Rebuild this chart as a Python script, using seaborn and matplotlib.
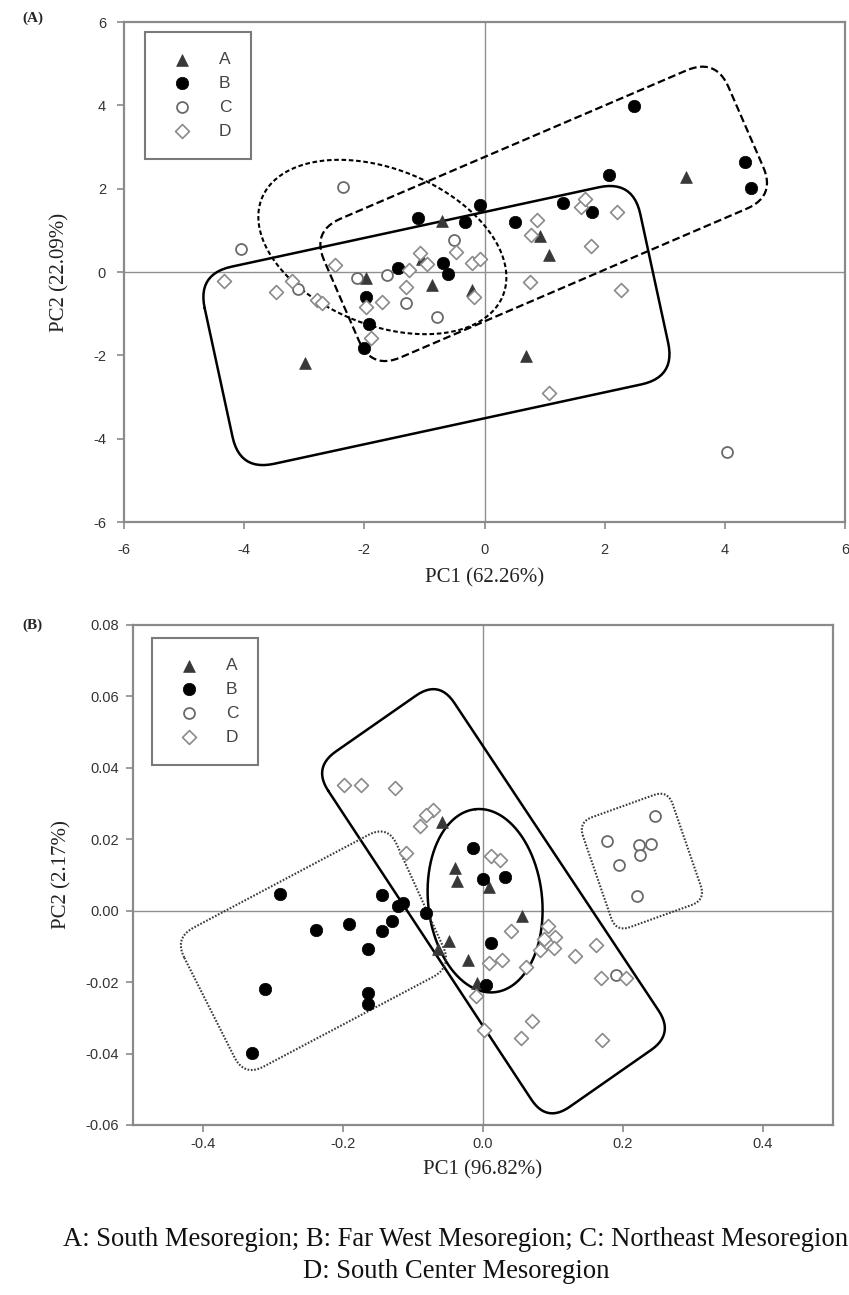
import numpy as np
import matplotlib
matplotlib.use("Agg")
import matplotlib.pyplot as plt
import seaborn as sns

# ---------------- data: panel (A) ----------------
pa_A_x = [-0.70, -1.04, -0.88, -1.97, -0.21, 0.93, 1.07, 3.36, -2.98, 0.69]
pa_A_y = [1.22, 0.31, -0.31, -0.14, -0.43, 0.86, 0.41, 2.29, -2.19, -2.01]
pa_B_x = [-1.11, -0.33, -0.07, 0.50, 1.31, 1.79, 2.07, 2.48, 4.33, 4.44,
          -1.44, -0.69, -0.61, -1.97, -1.93, -2.00]
pa_B_y = [1.30, 1.21, 1.62, 1.19, 1.65, 1.44, 2.33, 3.98, 2.65, 2.02,
          0.09, 0.22, -0.04, -0.59, -1.25, -1.83]
pa_C_x = [-2.36, -4.06, -3.10, -2.12, -1.62, -1.30, -0.79, -0.50, 4.04]
pa_C_y = [2.03, 0.55, -0.40, -0.14, -0.06, -0.74, -1.09, 0.76, -4.31]
pa_D_x = [-4.33, -3.47, -3.20, -2.79, -2.70, -2.48, -1.97, -1.71, -1.89, -1.26,
          -1.30, -1.07, -0.96, -0.47, -0.20, -0.08, -0.18, 0.87, 0.77, 1.60,
          1.67, 2.21, 1.77, 0.75, 2.28, 1.08]
pa_D_y = [-0.21, -0.48, -0.22, -0.67, -0.75, 0.18, -0.84, -0.72, -1.58, 0.05,
          -0.35, 0.45, 0.19, 0.48, 0.22, 0.31, -0.61, 1.26, 0.89, 1.57,
          1.75, 1.45, 0.63, -0.23, -0.43, -2.91]

# ---------------- data: panel (B) ----------------
pb_A_x = [-0.058, -0.040, -0.037, 0.009, 0.055, -0.049, -0.022, -0.009, -0.065]
pb_A_y = [0.0248, 0.0120, 0.0082, 0.0066, -0.0014, -0.0084, -0.0137, -0.0202, -0.0107]
pb_B_x = [-0.015, 0.000, 0.031, 0.012, 0.004, -0.290, -0.145, -0.115, -0.122, -0.082,
          -0.192, -0.238, -0.130, -0.144, -0.164, -0.312, -0.164, -0.164, -0.330]
pb_B_y = [0.0177, 0.0090, 0.0094, -0.0090, -0.0207, 0.0047, 0.0043, 0.0021, 0.0012, -0.0006,
          -0.0036, -0.0053, -0.0030, -0.0058, -0.0106, -0.0219, -0.0229, -0.0260, -0.0397]
pb_C_x = [0.177, 0.245, 0.194, 0.223, 0.240, 0.224, 0.220, 0.190]
pb_C_y = [0.0194, 0.0266, 0.0129, 0.0185, 0.0188, 0.0157, 0.0040, -0.0179]
pb_D_x = [-0.199, -0.175, -0.126, -0.072, -0.082, -0.090, -0.110, 0.011, 0.024, 0.040,
          0.009, 0.027, 0.061, 0.093, 0.103, 0.087, 0.101, 0.082, 0.132, 0.162,
          0.168, 0.204, 0.070, 0.054, 0.170, 0.001, -0.010]
pb_D_y = [0.0353, 0.0353, 0.0345, 0.0283, 0.0269, 0.0236, 0.0162, 0.0152, 0.0141, -0.0058,
          -0.0147, -0.0137, -0.0158, -0.0042, -0.0074, -0.0079, -0.0105, -0.0110, -0.0126, -0.0097,
          -0.0189, -0.0187, -0.0308, -0.0355, -0.0361, -0.0333, -0.0240]

group_labels = ["A", "B", "C", "D"]
xticks_a = [-6, -4, -2, 0, 2, 4, 6]
yticks_a = [-6, -4, -2, 0, 2, 4, 6]
xticks_b = [-0.4, -0.2, 0.0, 0.2, 0.4]
yticks_b = [-0.06, -0.04, -0.02, 0.00, 0.02, 0.04, 0.06, 0.08]
xlabel_a, ylabel_a = "PC1 (62.26%)", "PC2 (22.09%)"
xlabel_b, ylabel_b = "PC1 (96.82%)", "PC2 (2.17%)"
caption = ["A: South Mesoregion; B: Far West Mesoregion; C: Northeast Mesoregion",
           "D: South Center Mesoregion"]

# enclosing outlines (annotation geometry, data coords of corners)
rect_a_solid = [(-4.78, -0.05), (2.47, 2.21), (3.18, -2.52), (-4.07, -4.78)]
rect_a_dash = [(-2.88, 0.98), (3.85, 5.14), (4.85, 1.82), (-1.88, -2.35)]
ell_a = (-1.70, 0.60, 130, 78, -22)
rect_b_solid = [(-0.243, 0.0401), (-0.063, 0.0647), (0.273, -0.0345), (0.091, -0.0594)]
rect_b_dot1 = [(-0.441, -0.0076), (-0.136, 0.0241), (-0.044, -0.0157), (-0.341, -0.0465)]
rect_b_dot2 = [(0.136, 0.0248), (0.264, 0.0338), (0.318, 0.0030), (0.190, -0.0060)]
ell_b = (0.003, 0.0028, 92, 57, 96)

# ---------------- style ----------------
sns.set_theme(style="white")
plt.rcParams['font.family'] = ['Liberation Sans', 'DejaVu Sans']
SERIF = ['Liberation Serif', 'DejaVu Serif']

W, H = 849, 1295
fig = plt.figure(figsize=(W / 100, H / 100), dpi=100)
axA = fig.add_axes([124 / W, 1 - 522 / H, 721 / W, 500 / H])
axB = fig.add_axes([133 / W, 1 - 1125 / H, 700 / W, 500 / H])


def rounded(corners, r, sx, sy, n=14):
    P = np.array([[x * sx, y * sy] for x, y in corners])
    pts = []
    m = len(P)
    for i in range(m):
        prev, cur, nxt = P[i - 1], P[i], P[(i + 1) % m]
        d1 = (prev - cur) / np.linalg.norm(prev - cur)
        d2 = (nxt - cur) / np.linalg.norm(nxt - cur)
        a = cur + d1 * r
        b = cur + d2 * r
        t = np.linspace(0, 1, n)[:, None]
        pts.append((1 - t) ** 2 * a + 2 * (1 - t) * t * cur + t ** 2 * b)
    pts = np.vstack(pts + [pts[0][:1]])
    return pts[:, 0] / sx, pts[:, 1] / sy


def ellipse(spec, sx, sy):
    cx, cy, a, b, ang = spec
    t = np.linspace(0, 2 * np.pi, 300)
    ca, sa = np.cos(np.radians(ang)), np.sin(np.radians(ang))
    ex = a * np.cos(t) * ca - b * np.sin(t) * sa
    ey = a * np.cos(t) * sa + b * np.sin(t) * ca
    return cx + ex / sx, cy + ey / sy


def draw_points(ax, ax_, ay_, bx_, by_, cx_, cy_, dx_, dy_):
    sns.scatterplot(x=ax_, y=ay_, marker='^', s=72, color='#383838',
                    edgecolor='#383838', linewidth=0.5, ax=ax, label=group_labels[0], zorder=4)
    sns.scatterplot(x=bx_, y=by_, marker='o', s=80, color='black',
                    edgecolor='black', linewidth=0.5, ax=ax, label=group_labels[1], zorder=4)
    sns.scatterplot(x=cx_, y=cy_, marker='o', s=62, facecolor='white',
                    edgecolor='#6a6a6a', linewidth=1.3, ax=ax, label=group_labels[2], zorder=4)
    sns.scatterplot(x=dx_, y=dy_, marker='D', s=50, facecolor='white',
                    edgecolor='#8a8a8a', linewidth=1.2, ax=ax, label=group_labels[3], zorder=4)


def style_axes(ax, xlim, ylim, xt, yt, fmt, xl, yl, xpad, ypad, xlp, ylp):
    ax.set_xlim(*xlim)
    ax.set_ylim(*ylim)
    ax.set_xticks(xt)
    ax.set_yticks(yt)
    ax.set_xticklabels([fmt(v) for v in xt])
    ax.set_yticklabels([fmt(v) for v in yt])
    ax.axhline(0, color='#8f8f8f', lw=1.0, zorder=1)
    ax.axvline(0, color='#8f8f8f', lw=1.0, zorder=1)
    for s in ax.spines.values():
        s.set_color('#8a8a8a')
        s.set_linewidth(1.6)
    ax.tick_params(axis='both', direction='out', length=5, width=1.2, color='#8a8a8a',
                   labelsize=10.5, labelcolor='#333333', bottom=True, left=True)
    ax.tick_params(axis='x', pad=xpad)
    ax.tick_params(axis='y', pad=ypad)
    ax.set_xlabel(xl, family=SERIF, fontsize=15, color='#222222', labelpad=xlp)
    ax.set_ylabel(yl, family=SERIF, fontsize=15, color='#222222', labelpad=ylp)
    leg = ax.legend(loc='upper left', frameon=True, fancybox=False, framealpha=1,
                    fontsize=12.5, handletextpad=1.1, labelspacing=0.5, borderpad=1.15,
                    handlelength=2.0, borderaxespad=0)
    leg.get_frame().set_edgecolor('#7a7a7a')
    leg.get_frame().set_linewidth(1.5)
    for t in leg.get_texts():
        t.set_color('#444444')
    return leg


# ---------------- panel A ----------------
sxA, syA = 721 / 12.0, 500 / 12.0
draw_points(axA, pa_A_x, pa_A_y, pa_B_x, pa_B_y, pa_C_x, pa_C_y, pa_D_x, pa_D_y)
x, y = rounded(rect_a_solid, 35, sxA, syA)
axA.plot(x, y, color='black', lw=1.8, zorder=2)
x, y = rounded(rect_a_dash, 32, sxA, syA)
axA.plot(x, y, color='black', lw=1.6, dashes=(3.5, 1.6), zorder=2)
x, y = ellipse(ell_a, sxA, syA)
axA.plot(x, y, color='black', lw=1.5, dashes=(2.2, 1.3), zorder=2)
legA = style_axes(axA, (-6, 6), (-6, 6), xticks_a, yticks_a, lambda v: f"{v:g}",
                  xlabel_a, ylabel_a, xpad=10, ypad=8, xlp=8, ylp=17)
legA.set_bbox_to_anchor(((145 - 124) / 721, (522 - 32) / 500), transform=axA.transAxes)

# ---------------- panel B ----------------
sxB, syB = 700 / 1.0, 500 / 0.14
draw_points(axB, pb_A_x, pb_A_y, pb_B_x, pb_B_y, pb_C_x, pb_C_y, pb_D_x, pb_D_y)
x, y = rounded(rect_b_solid, 28, sxB, syB)
axB.plot(x, y, color='black', lw=1.8, zorder=2)
x, y = ellipse(ell_b, sxB, syB)
axB.plot(x, y, color='black', lw=1.8, zorder=2)
x, y = rounded(rect_b_dot1, 22, sxB, syB)
axB.plot(x, y, color='#3a3a3a', lw=1.5, dashes=(0.8, 0.8), zorder=2)
x, y = rounded(rect_b_dot2, 15, sxB, syB)
axB.plot(x, y, color='#3a3a3a', lw=1.5, dashes=(0.8, 0.8), zorder=2)
legB = style_axes(axB, (-0.5, 0.5), (-0.06, 0.08), xticks_b, yticks_b, lambda v: f"{v:.1f}",
                  xlabel_b, ylabel_b, xpad=4, ypad=5, xlp=6, ylp=10)
axB.set_yticklabels([f"{v:.2f}" for v in yticks_b])
legB.set_bbox_to_anchor(((152 - 133) / 700, (1125 - 638) / 500), transform=axB.transAxes)

# ---------------- texts ----------------
fig.text(22 / W, 1 - 18 / H, "(A)", family=SERIF, fontsize=11, fontweight='bold', va='center', ha='left')
fig.text(22 / W, 1 - 625 / H, "(B)", family=SERIF, fontsize=11, fontweight='bold', va='center', ha='left')
fig.text(456 / W, 1 - 1240 / H, caption[0], family=SERIF, fontsize=19.2, ha='center', va='center', color='#111111')
fig.text(456 / W, 1 - 1271 / H, caption[1], family=SERIF, fontsize=19.2, ha='center', va='center', color='#111111')

fig.savefig("out.png", dpi=100)
